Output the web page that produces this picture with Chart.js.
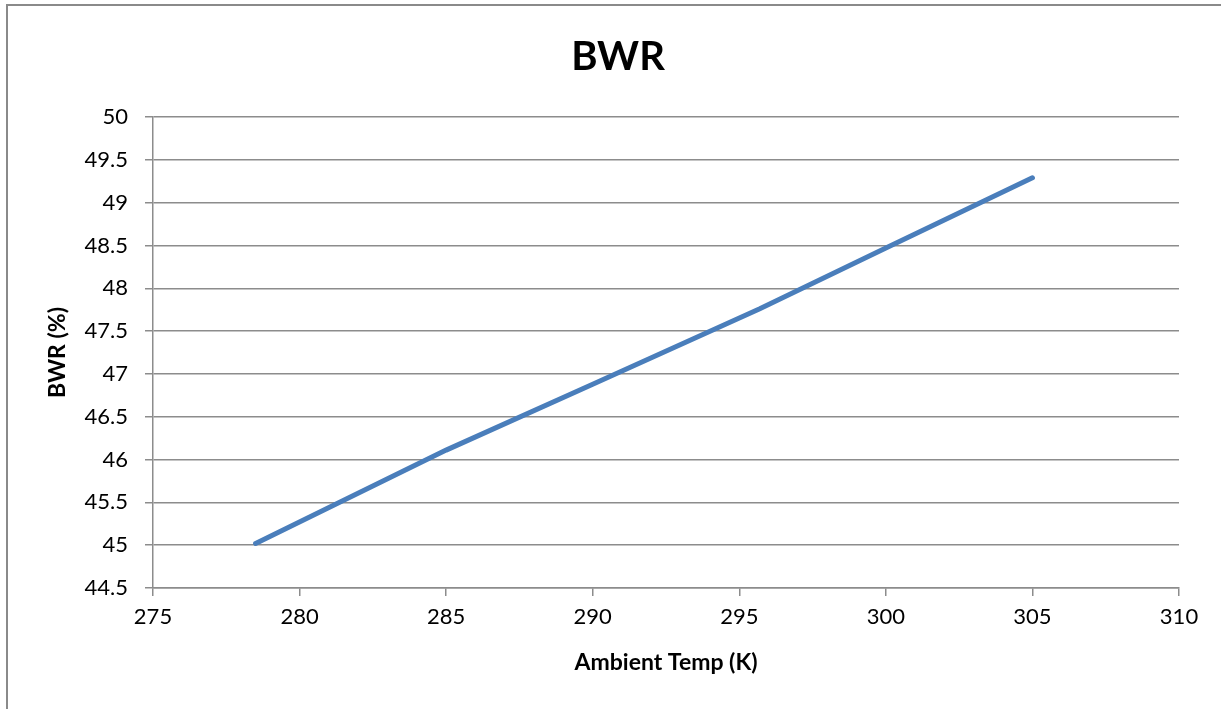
<!DOCTYPE html>
<html>
<head>
<meta charset="utf-8">
<script src="https://cdn.jsdelivr.net/npm/chart.js@4"></script>
<style>
    html, body { margin: 0; padding: 0; background: #fff; overflow: hidden; }
    #wrap { position: relative; width: 1221px; height: 709px; }
    #frame {
        position: absolute; left: 6px; top: 4px; width: 1400px; height: 900px;
        border: 2px solid #8a8a8a; pointer-events: none;
    }
</style>
</head>
<body>
<div id="wrap">
    <canvas id="graph-bwr" width="1221" height="709"></canvas>
    <div id="frame"></div>
</div>
<script>
const ambientTemp = [278.5, 285, 290, 295.7, 300, 305];
const bwrValues = [45.02, 46.11, 46.88, 47.76, 48.47, 49.29];
const yTicks = [44.5, 45, 45.5, 46, 46.5, 47, 47.5, 48, 48.5, 49, 49.5, 50];
const xTicks = [275, 280, 285, 290, 295, 300, 305, 310];

const fontFamily = "Lato, 'Open Sans', sans-serif";
const gridColor = "#8c8c8c";

const points = ambientTemp.map((t, i) => ({ x: t, y: bwrValues[i] }));

const graph = new Chart(
    document.getElementById("graph-bwr"),
    {
        type: "line",
        data: {
            datasets: [{
                label: "BWR",
                data: points,
                borderColor: "#4a7ebb",
                borderWidth: 5,
                pointRadius: 0,
                tension: 0,
                borderCapStyle: "round",
                fill: false
            }]
        },
        options: {
            responsive: false,
            animation: false,
            layout: { padding: { top: 0, right: 0, bottom: 0, left: 15 } },
            plugins: {
                legend: { display: false },
                tooltip: { enabled: false },
                title: {
                    display: true,
                    text: "BWR",
                    color: "#000",
                    font: { family: fontFamily, size: 40, weight: "bold", lineHeight: 1.2 },
                    padding: { top: 33, bottom: 36 }
                }
            },
            scales: {
                x: {
                    type: "linear",
                    min: xTicks[0],
                    max: xTicks[xTicks.length - 1],
                    afterBuildTicks: scale => { scale.ticks = xTicks.map(v => ({ value: v })); },
                    afterFit: scale => { scale.height = 121; },
                    grid: { display: true, drawOnChartArea: false, color: gridColor, lineWidth: 1.5, tickLength: 8 },
                    border: { color: gridColor, width: 1.5 },
                    ticks: {
                        color: "#000",
                        font: { family: fontFamily, size: 22 },
                        padding: 8,
                        maxRotation: 0
                    },
                    title: {
                        display: true,
                        text: "Ambient Temp (K)",
                        color: "#000",
                        font: { family: fontFamily, size: 23, weight: "bold" },
                        padding: { top: 0, bottom: 33 }
                    }
                },
                y: {
                    min: yTicks[0],
                    max: yTicks[yTicks.length - 1],
                    afterBuildTicks: scale => { scale.ticks = yTicks.map(v => ({ value: v })); },
                    afterFit: scale => { scale.width = 138; },
                    grid: { color: gridColor, lineWidth: 1.5, tickLength: 8 },
                    border: { color: gridColor, width: 1.5 },
                    ticks: {
                        color: "#000",
                        font: { family: fontFamily, size: 22 },
                        padding: 17,
                        callback: v => String(v)
                    },
                    title: {
                        display: true,
                        text: "BWR (%)",
                        color: "#000",
                        font: { family: fontFamily, size: 23, weight: "bold" },
                        padding: { top: 29, bottom: 0 }
                    }
                },
                // empty right-hand space so the title centres like the original
                spacer: {
                    type: "linear",
                    position: "right",
                    afterFit: scale => { scale.width = 42; },
                    grid: { display: false },
                    border: { display: false },
                    ticks: { display: false }
                }
            }
        }
    }
);
</script>
</body>
</html>
